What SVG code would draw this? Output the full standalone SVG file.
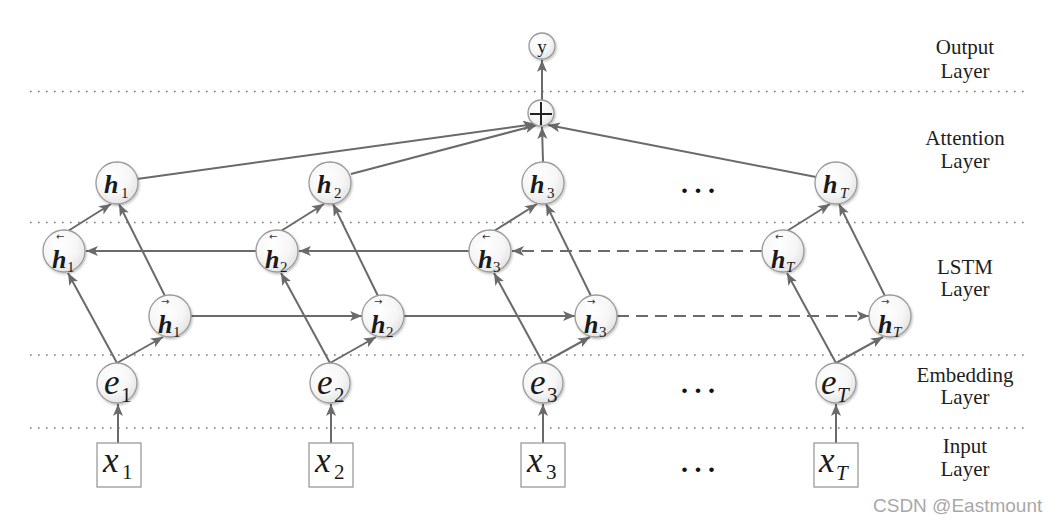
<svg xmlns="http://www.w3.org/2000/svg" width="1059" height="524" viewBox="0 0 1059 524">
<defs>
<radialGradient id="g" cx="40%" cy="35%" r="70%">
<stop offset="0" stop-color="#ffffff"/>
<stop offset="0.6" stop-color="#f6f6f6"/>
<stop offset="1" stop-color="#e2e2e2"/>
</radialGradient>
<filter id="sh" x="-30%" y="-30%" width="160%" height="160%">
<feDropShadow dx="1" dy="1.5" stdDeviation="1.2" flood-color="#000" flood-opacity="0.25"/>
</filter>
<marker id="ah" markerUnits="userSpaceOnUse" markerWidth="13" markerHeight="11" refX="12" refY="5" orient="auto">
<path d="M0,0 L12,5 L0,10 L3,5 z" fill="#6a6a6a"/>
</marker>
<style>
.dot{stroke:#7a7a7a;stroke-width:1.6;stroke-dasharray:1.6 6.4;fill:none}
.c{stroke:#6a6a6a;stroke-width:2;fill:none;marker-end:url(#ah)}
.d{stroke-dasharray:12 7}
.n{fill:url(#g);stroke:#9a9a9a;stroke-width:1.3;filter:url(#sh)}
.b{fill:#fff;stroke:#9a9a9a;stroke-width:1.3}
.lab{font-family:"Liberation Serif","Times New Roman",serif;font-size:21px;fill:#1e1e1e;text-anchor:middle}
.h{font-family:"Liberation Serif","Times New Roman",serif;font-size:26px;font-weight:bold;font-style:italic;fill:#1a1a1a}
.e{font-family:"Liberation Serif","Times New Roman",serif;font-size:35px;font-style:italic;fill:#1a1a1a}
.s{font-family:"Liberation Serif","Times New Roman",serif;font-size:15px;fill:#1a1a1a}
.sb{font-family:"Liberation Serif","Times New Roman",serif;font-size:21px;fill:#1a1a1a}
.ar{font-family:"DejaVu Sans",sans-serif;font-size:10px;fill:#333}
.el{font-family:"Liberation Serif","Times New Roman",serif;font-size:28px;font-weight:bold;fill:#111;letter-spacing:6.5px}
</style>
</defs>
<rect width="1059" height="524" fill="#fff"/>
<g id="layer-lines">
<line class="dot" x1="30" y1="91.5" x2="1030" y2="91.5"/>
<line class="dot" x1="30" y1="222.5" x2="1030" y2="222.5"/>
<line class="dot" x1="30" y1="355" x2="1030" y2="355"/>
<line class="dot" x1="30" y1="428" x2="1030" y2="428"/>
</g>
<g id="labels">
<text class="lab" x="965" y="54">Output</text>
<text class="lab" x="965" y="78">Layer</text>
<text class="lab" x="965" y="145">Attention</text>
<text class="lab" x="965" y="168">Layer</text>
<text class="lab" x="965" y="274">LSTM</text>
<text class="lab" x="965" y="296">Layer</text>
<text class="lab" x="965" y="382">Embedding</text>
<text class="lab" x="965" y="404">Layer</text>
<text class="lab" x="965" y="453">Input</text>
<text class="lab" x="965" y="476">Layer</text>
</g>
<g id="connectors">
<line class="c" x1="542" y1="100" x2="542" y2="60"/>
<line class="c" x1="137" y1="179" x2="535" y2="124"/>
<line class="c" x1="351" y1="174" x2="537" y2="125"/>
<line class="c" x1="543" y1="162" x2="542" y2="127"/>
<line class="c" x1="816" y1="177" x2="548" y2="125"/>
<line class="c" x1="68" y1="231" x2="111" y2="204"/>
<line class="c" x1="165" y1="296" x2="119" y2="204"/>
<line class="c" x1="281" y1="231" x2="324" y2="204"/>
<line class="c" x1="378" y1="296" x2="333" y2="204"/>
<line class="c" x1="494" y1="231" x2="537" y2="204"/>
<line class="c" x1="591" y1="296" x2="546" y2="204"/>
<line class="c" x1="787" y1="231" x2="830" y2="204"/>
<line class="c" x1="885" y1="296" x2="839" y2="204"/>
<line class="c" x1="117" y1="363" x2="68" y2="273"/>
<line class="c" x1="117" y1="363" x2="163" y2="337"/>
<line class="c" x1="330" y1="363" x2="281" y2="273"/>
<line class="c" x1="330" y1="363" x2="376" y2="337"/>
<line class="c" x1="543" y1="363" x2="494" y2="273"/>
<line class="c" x1="543" y1="363" x2="590" y2="337"/>
<line class="c" x1="836" y1="363" x2="787" y2="273"/>
<line class="c" x1="836" y1="363" x2="883" y2="337"/>
<line class="c" x1="256" y1="251" x2="86" y2="251"/>
<line class="c" x1="469" y1="251" x2="299" y2="251"/>
<line class="c d" x1="762" y1="251" x2="512" y2="251"/>
<line class="c" x1="191" y1="316" x2="362" y2="316"/>
<line class="c" x1="404" y1="316" x2="575" y2="316"/>
<line class="c d" x1="617" y1="316" x2="869" y2="316"/>
<line class="c" x1="118" y1="443" x2="118" y2="404"/>
<line class="c" x1="331" y1="443" x2="331" y2="404"/>
<line class="c" x1="543" y1="443" x2="543" y2="404"/>
<line class="c" x1="836" y1="443" x2="836" y2="404"/>
</g>
<g id="y">
<circle class="n" cx="542" cy="46" r="13"/>
<text x="542" y="53" font-family="Liberation Serif, serif" font-size="19" text-anchor="middle" fill="#1a1a1a">y</text>
</g>
<g id="sum">
<circle class="n" cx="541" cy="113" r="13"/>
<path d="M541,102 V125 M530,114 H552" stroke="#222" stroke-width="2" fill="none"/>
</g>
<g id="h1"><circle class="n" cx="117" cy="183" r="21"/><text class="h" x="104" y="193">h</text><text class="s" x="121" y="198">1</text></g>
<g id="h2"><circle class="n" cx="330" cy="183" r="21"/><text class="h" x="317" y="193">h</text><text class="s" x="334" y="198">2</text></g>
<g id="h3"><circle class="n" cx="543" cy="183" r="21"/><text class="h" x="530" y="193">h</text><text class="s" x="547" y="198">3</text></g>
<g id="hT"><circle class="n" cx="836" cy="183" r="21"/><text class="h" x="823" y="193">h</text><text class="s" x="840" y="198" font-style="italic">T</text></g>
<g id="hb1"><circle class="n" cx="64" cy="251" r="21"/><text class="ar" x="56" y="240">←</text><text class="h" x="52" y="268">h</text><text class="s" x="67" y="272">1</text></g>
<g id="hb2"><circle class="n" cx="277" cy="251" r="21"/><text class="ar" x="269" y="240">←</text><text class="h" x="265" y="268">h</text><text class="s" x="280" y="272">2</text></g>
<g id="hb3"><circle class="n" cx="490" cy="251" r="21"/><text class="ar" x="482" y="240">←</text><text class="h" x="478" y="268">h</text><text class="s" x="493" y="272">3</text></g>
<g id="hbT"><circle class="n" cx="783" cy="251" r="21"/><text class="ar" x="775" y="240">←</text><text class="h" x="771" y="268">h</text><text class="s" x="786" y="272" font-style="italic">T</text></g>
<g id="hf1"><circle class="n" cx="170" cy="316" r="21"/><text class="ar" x="161" y="305">→</text><text class="h" x="158" y="333">h</text><text class="s" x="173" y="337">1</text></g>
<g id="hf2"><circle class="n" cx="383" cy="316" r="21"/><text class="ar" x="374" y="305">→</text><text class="h" x="371" y="333">h</text><text class="s" x="386" y="337">2</text></g>
<g id="hf3"><circle class="n" cx="596" cy="316" r="21"/><text class="ar" x="587" y="305">→</text><text class="h" x="584" y="333">h</text><text class="s" x="599" y="337">3</text></g>
<g id="hfT"><circle class="n" cx="890" cy="316" r="21"/><text class="ar" x="881" y="305">→</text><text class="h" x="878" y="333">h</text><text class="s" x="893" y="337" font-style="italic">T</text></g>
<g id="e1"><circle class="n" cx="117" cy="383" r="20"/><text class="e" x="104" y="394">e</text><text class="sb" x="121" y="402">1</text></g>
<g id="e2"><circle class="n" cx="330" cy="383" r="20"/><text class="e" x="317" y="394">e</text><text class="sb" x="334" y="402">2</text></g>
<g id="e3"><circle class="n" cx="543" cy="383" r="20"/><text class="e" x="530" y="394">e</text><text class="sb" x="547" y="402">3</text></g>
<g id="eT"><circle class="n" cx="836" cy="383" r="20"/><text class="e" x="821" y="394">e</text><text class="sb" x="837" y="402" font-style="italic" font-size="17">T</text></g>
<g id="x1"><rect class="b" x="97" y="443" width="44" height="44"/><text class="e" x="103" y="472">x</text><text class="sb" x="122" y="479">1</text></g>
<g id="x2"><rect class="b" x="309" y="443" width="44" height="44"/><text class="e" x="315" y="472">x</text><text class="sb" x="334" y="479">2</text></g>
<g id="x3"><rect class="b" x="521" y="443" width="44" height="44"/><text class="e" x="527" y="472">x</text><text class="sb" x="546" y="479">3</text></g>
<g id="xT"><rect class="b" x="814" y="443" width="44" height="44"/><text class="e" x="819" y="472">x</text><text class="sb" x="836" y="480" font-style="italic" font-size="17">T</text></g>
<g id="ellipses">
<text class="el" x="681" y="193">...</text>
<text class="el" x="681" y="393">...</text>
<text class="el" x="681" y="472">...</text>
</g>
<text x="873" y="512" font-family="Liberation Sans, sans-serif" font-size="19" fill="#a8a8a8">CSDN @Eastmount</text>
</svg>
